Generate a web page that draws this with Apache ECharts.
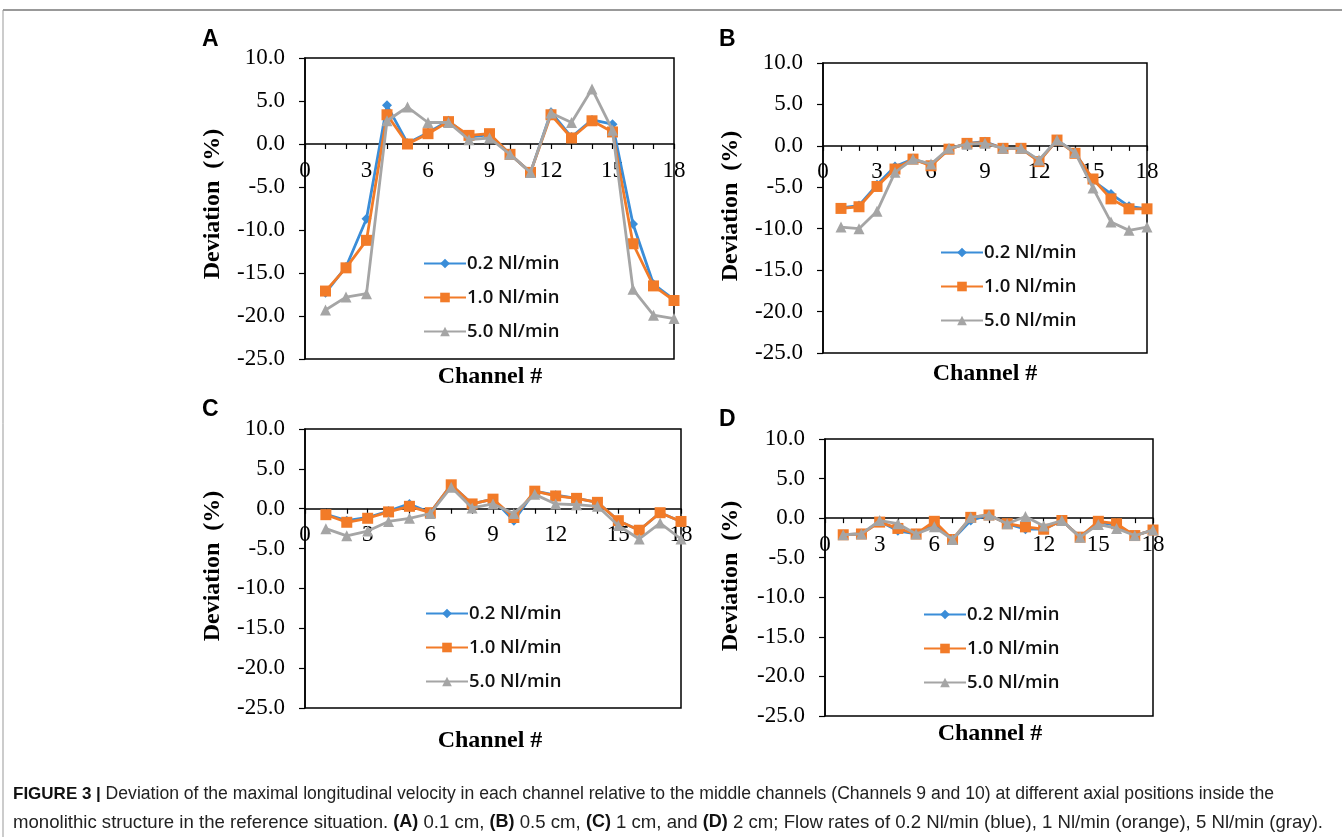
<!DOCTYPE html>
<html>
<head>
<meta charset="utf-8">
<script src="https://cdn.jsdelivr.net/npm/echarts@6/dist/echarts.min.js"></script>
<style>
html,body{margin:0;padding:0;background:#fff;}
#chart{width:1342px;height:837px;}
</style>
</head>
<body>
<div id="chart"></div>
<script>
// ---- data ----
const channels = [1,2,3,4,5,6,7,8,9,10,11,12,13,14,15,16,17,18];
const seriesNames = ['0.2 Nl/min', '1.0 Nl/min', '5.0 Nl/min'];
const yTicks = [-25, -20, -15, -10, -5, 0, 5, 10];
const xTicks = [0, 3, 6, 9, 12, 15, 18];
const panelLetters = ['A', 'B', 'C', 'D'];

const A_02 = [-17.3, -14.3, -8.7, 4.5, 0.1, 1.3, 2.7, 0.8, 1.1, -1.2, -3.3, 3.7, 0.8, 2.8, 2.3, -9.3, -16.3, -18.1];
const A_10 = [-17.1, -14.4, -11.2, 3.4, 0.0, 1.2, 2.6, 1.0, 1.2, -1.2, -3.3, 3.4, 0.7, 2.7, 1.4, -11.6, -16.5, -18.2];
const A_50 = [-19.3, -17.8, -17.4, 2.7, 4.3, 2.5, 2.5, 0.5, 0.7, -1.2, -3.3, 3.6, 2.5, 6.4, 1.6, -16.9, -19.9, -20.3];

const B_02 = [-7.5, -7.2, -4.7, -2.5, -1.6, -2.3, -0.4, 0.3, 0.5, -0.3, -0.3, -1.8, 0.7, -0.8, -4.2, -5.8, -7.3, -7.6];
const B_10 = [-7.55, -7.35, -4.9, -2.8, -1.6, -2.4, -0.4, 0.3, 0.4, -0.3, -0.3, -1.9, 0.7, -0.9, -4.0, -6.4, -7.6, -7.6];
const B_50 = [-9.8, -10.0, -7.9, -3.2, -1.6, -2.2, -0.3, 0.2, 0.3, -0.3, -0.3, -1.7, 0.7, -0.8, -5.1, -9.2, -10.2, -9.8];

const C_02 = [-0.7, -1.5, -1.1, -0.3, 0.6, -0.5, 3.0, 0.6, 1.2, -1.5, 2.2, 1.7, 1.3, 0.8, -1.5, -2.7, -0.5, -1.6];
const C_10 = [-0.75, -1.7, -1.2, -0.4, 0.3, -0.5, 3.0, 0.6, 1.2, -1.1, 2.2, 1.6, 1.3, 0.8, -1.5, -2.7, -0.5, -1.6];
const C_50 = [-2.5, -3.4, -2.8, -1.6, -1.2, -0.6, 2.7, 0.1, 0.6, -0.6, 1.8, 0.6, 0.5, 0.3, -2.1, -3.8, -1.8, -3.8];

const D_02 = [-2.1, -2.0, -0.4, -1.6, -2.0, -0.8, -2.7, -0.3, 0.4, -0.7, -1.4, -1.4, -0.3, -2.4, -0.5, -0.9, -2.2, -1.5];
const D_10 = [-2.1, -2.0, -0.5, -1.3, -2.0, -0.4, -2.7, 0.1, 0.4, -0.7, -1.1, -1.4, -0.3, -2.4, -0.4, -0.7, -2.2, -1.5];
const D_50 = [-2.1, -2.0, -0.3, -0.7, -2.0, -1.1, -2.7, 0.1, 0.4, -0.7, 0.2, -1.0, -0.3, -2.4, -0.8, -1.3, -2.2, -1.5];

const panelData = [[A_02, A_10, A_50], [B_02, B_10, B_50], [C_02, C_10, C_50], [D_02, D_10, D_50]];

const captionBold = 'FIGURE 3 | ';
const captionLine1 = 'Deviation of the maximal longitudinal velocity in each channel relative to the middle channels (Channels 9 and 10) at different axial positions inside the';
const captionLine2 = ['monolithic structure in the reference situation. ', '(A)', ' 0.1 cm, ', '(B)', ' 0.5 cm, ', '(C)', ' 1 cm, and ', '(D)', ' 2 cm; Flow rates of 0.2 Nl/min (blue), 1 Nl/min (orange), 5 Nl/min (gray).'];

// ---- layout / style ----
const Y_MIN = -25, Y_MAX = 10;
const colors = ['#3A8DD8', '#F27B28', '#A5A5A5'];
const symbols = ['diamond', 'rect', 'triangle'];
const symbolSizes = [10, 11, 11];
const grids = [
  {left: 305, top: 58, width: 369, height: 301},
  {left: 823, top: 63, width: 324, height: 290},
  {left: 305, top: 429, width: 376, height: 279},
  {left: 825, top: 439, width: 328, height: 277}
];
const legendPos = [
  {left: 423, top: 254},
  {left: 940, top: 243},
  {left: 425, top: 604},
  {left: 923, top: 605}
];
const yTitlePos = [[213, 204], [731, 206], [213, 566], [731, 576]];
const xTitlePos = [[490, 377], [985, 374], [490, 741], [990, 734]];
const letterPos = [[202, 28], [719, 28], [202, 398], [719, 408]];

const serif = '"Liberation Serif", "Times New Roman", serif';
const sans = '"Liberation Sans", Arial, sans-serif';

// distance from grid bottom edge up to the zero line (labels must sit just below it)
const zeroFromBottom = g => g.height * (0 - Y_MIN) / (Y_MAX - Y_MIN);

const option = {
  animation: false,
  backgroundColor: '#fff',
  grid: grids.map(g => Object.assign({show: true, borderColor: '#000', borderWidth: 1.5, backgroundColor: 'transparent'}, g)),
  xAxis: grids.map((g, i) => ({
    type: 'value', gridIndex: i, min: 0, max: 18, interval: 3,
    axisLine: {show: true, onZero: true, lineStyle: {color: '#000', width: 1.5}},
    axisTick: {show: true, inside: false, length: 5, lineStyle: {color: '#000', width: 1.2}},
    minorTick: {show: true, splitNumber: 3, length: 5, lineStyle: {color: '#000', width: 1.2}},
    splitLine: {show: false},
    axisLabel: {fontFamily: serif, fontSize: 23, color: '#000', margin: -zeroFromBottom(g) + 15,
      formatter: v => xTicks.indexOf(v) >= 0 ? String(v) : ''}
  })),
  yAxis: grids.map((g, i) => ({
    type: 'value', gridIndex: i, min: Y_MIN, max: Y_MAX, interval: 5,
    axisLine: {show: true, onZero: false, lineStyle: {color: '#000', width: 1.5}},
    axisTick: {show: true, inside: false, length: 6, lineStyle: {color: '#000', width: 1.2}},
    splitLine: {show: false},
    axisLabel: {fontFamily: serif, fontSize: 23, color: '#000', margin: 20,
      formatter: v => yTicks.indexOf(v) >= 0 ? v.toFixed(1) : ''}
  })),
  legend: legendPos.map((p, i) => ({
    orient: 'vertical', left: p.left, top: p.top,
    data: seriesNames.map(n => ({name: n})),
    itemWidth: 42, itemHeight: 12, itemGap: 15, padding: 0,
    selectedMode: false,
    textStyle: {fontFamily: '"Open Sans", sans-serif', fontWeight: 600, fontSize: 18.5, color: '#111', lineHeight: 18, padding: [0, 0, 0, -4]}
  })),
  series: [],
  graphic: []
};

panelData.forEach((arrs, p) => {
  arrs.forEach((vals, s) => {
    option.series.push({
      name: seriesNames[s], type: 'line',
      xAxisIndex: p, yAxisIndex: p,
      data: channels.map((c, k) => [c, vals[k]]),
      symbol: symbols[s], symbolSize: symbolSizes[s],
      lineStyle: {color: colors[s], width: 2.8},
      itemStyle: {color: colors[s]},
      z: 2 + s
    });
  });
});

const g = option.graphic;
// figure frame lines
g.push({type: 'line', shape: {x1: 3, y1: 10, x2: 1342, y2: 10}, style: {stroke: '#777', lineWidth: 1.5}, silent: true});
g.push({type: 'line', shape: {x1: 3, y1: 10, x2: 3, y2: 837}, style: {stroke: '#999', lineWidth: 1}, silent: true});

panelLetters.forEach((L, i) => {
  g.push({type: 'text', left: letterPos[i][0], top: letterPos[i][1],
    style: {text: L, font: 'bold 23px ' + sans, fill: '#000'}});
  g.push({type: 'text', x: yTitlePos[i][0], y: yTitlePos[i][1], rotation: Math.PI / 2,
    style: {text: 'Deviation  (%)', font: 'bold 24px ' + serif, fill: '#000', align: 'center', verticalAlign: 'middle'}});
  g.push({type: 'text', x: xTitlePos[i][0], y: xTitlePos[i][1],
    style: {text: 'Channel #', font: 'bold 24px ' + serif, fill: '#000', align: 'center', verticalAlign: 'middle'}});
});

// caption
g.push({type: 'text', left: 13, top: 785, style: {
  text: '{b|' + captionBold + '}{n|' + captionLine1 + '}',
  rich: {b: {font: 'bold 17px ' + sans, fill: '#111'}, n: {font: '17.6px ' + sans, fill: '#222'}}
}});
g.push({type: 'text', left: 13, top: 813, style: {
  text: captionLine2.map((t, k) => (k % 2 === 1 ? '{b|' + t + '}' : '{n|' + t + '}')).join(''),
  rich: {b: {font: 'bold 18px ' + sans, fill: '#111'}, n: {font: '18.6px ' + sans, fill: '#222'}}
}});

const chart = echarts.init(document.getElementById('chart'), null, {renderer: 'canvas'});
chart.setOption(option);
</script>
</body>
</html>
